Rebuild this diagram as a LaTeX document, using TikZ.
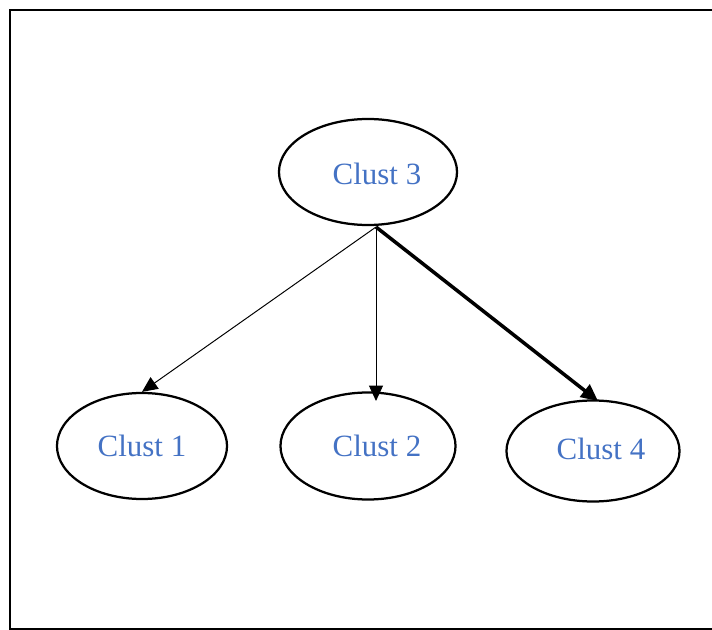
\documentclass[tikz,border=0pt]{standalone}
\usepackage{fontspec}
\setmainfont{Liberation Serif}
\usetikzlibrary{positioning,shapes.geometric,arrows.meta}
\definecolor{clustblue}{RGB}{68,114,196}

\begin{document}
\begin{tikzpicture}[x=0.025cm,y=-0.025cm,
        clust/.style={ellipse,draw,line width=1.6pt,inner sep=0pt},
        clusttext/.style={text=clustblue,font=\fontsize{22}{26}\selectfont},
        edge/.style={line width=0.7pt,-{Triangle[length=11pt,width=10pt]}}]
            \useasboundingbox (0,0) rectangle (712,630);
            \draw[line width=1.6pt] (712,10) -- (10,10) -- (10,629) -- (712,629);

            \node[clust,minimum width=4.45cm,minimum height=2.65cm] (c3) at (368,172) {};
            \node[clust,minimum width=4.25cm,minimum height=2.65cm] (c1) at (142,446) {};
            \node[clust,minimum width=4.375cm,minimum height=2.675cm] (c2) at (368,446) {};
            \node[clust,minimum width=4.325cm,minimum height=2.525cm] (c4) at (593,451) {};

            \node[clusttext] (t3) at (377,174) {Clust 3};
            \node[clusttext] (t1) at (142,446) {Clust 1};
            \node[clusttext] (t2) at (377,446) {Clust 2};
            \node[clusttext] (t4) at (601,449) {Clust 4};

            \coordinate (src) at (376,227);
            \coordinate (in2) at (376,401);
            \coordinate (in4) at (598,401);

            \draw[edge] (src) -- (c1.north);
            \draw[edge] (src) -- (in2);
            \draw[edge,line width=2.5pt,-{Triangle[length=12pt,width=11pt]}] (src) -- (in4);
        \end{tikzpicture}
\end{document}
